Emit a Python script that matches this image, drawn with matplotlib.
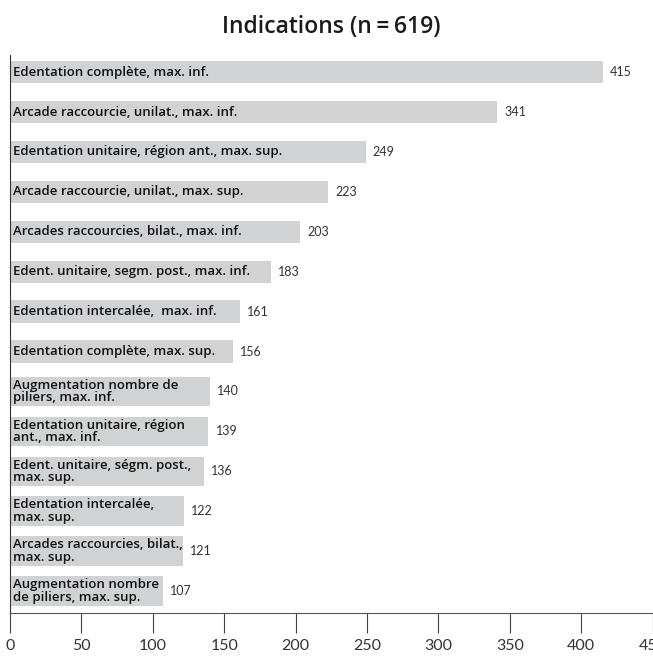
import matplotlib
matplotlib.use("Agg")
import matplotlib.pyplot as plt

# data
labels = [
    "Edentation complète, max. inf.",
    "Arcade raccourcie, unilat., max. inf.",
    "Edentation unitaire, région ant., max. sup.",
    "Arcade raccourcie, unilat., max. sup.",
    "Arcades raccourcies, bilat., max. inf.",
    "Edent. unitaire, segm. post., max. inf.",
    "Edentation intercalée,  max. inf.",
    "Edentation complète, max. sup.",
    "Augmentation nombre de\npiliers, max. inf.",
    "Edentation unitaire, région\nant., max. inf.",
    "Edent. unitaire, ségm. post.,\nmax. sup.",
    "Edentation intercalée,\nmax. sup.",
    "Arcades raccourcies, bilat.,\nmax. sup.",
    "Augmentation nombre\nde piliers, max. sup.",
]
values = [415, 341, 249, 223, 203, 183, 161, 156, 140, 139, 136, 122, 121, 107]
xticks = [0, 50, 100, 150, 200, 250, 300, 350, 400, 450]
title = "Indications (n\u2009=\u2009619)"

plt.rcParams['font.family'] = ['Lato', 'DejaVu Sans']

fig = plt.figure(figsize=(6.53, 6.57), dpi=100)
ax = fig.add_axes([10 / 653, 1 - 613 / 657, 642.5 / 653, (613 - 55) / 657])

ypos = list(range(len(values)))
heights = [0.74 if "\n" in lab else 0.56 for lab in labels]
ax.barh(ypos, values, height=heights, color="#d1d2d4", edgecolor="none")

for y, v, lab in zip(ypos, values, labels):
    ax.text(2.2, y, lab, va="center", ha="left", fontsize=9.5,
            family=["Open Sans", "DejaVu Sans"], fontweight="semibold",
            color="#111111", linespacing=0.95)
    ax.text(v + 5, y, str(v), va="center", ha="left", fontsize=9,
            color="#333333")

ax.set_xlim(0, 450)
ax.set_ylim(13.55, -0.43)
ax.set_xticks(xticks)
ax.set_xticklabels([str(t) for t in xticks], fontsize=11.5, color="#333333")
ax.set_yticks([])
ax.tick_params(axis="x", length=14.5, width=0.8, color="#444444", pad=4)

for s in ["top", "right"]:
    ax.spines[s].set_visible(False)
ax.spines["left"].set_color("#333333")
ax.spines["left"].set_linewidth(0.8)
ax.spines["bottom"].set_color("#555555")
ax.spines["bottom"].set_linewidth(0.8)

fig.text(0.508, 1 - 27 / 657, title, ha="center", va="center",
         fontsize=16.5, family=["Open Sans", "DejaVu Sans"],
         fontweight="semibold", color="#1a1a1a")

fig.savefig("out.png", dpi=100)
